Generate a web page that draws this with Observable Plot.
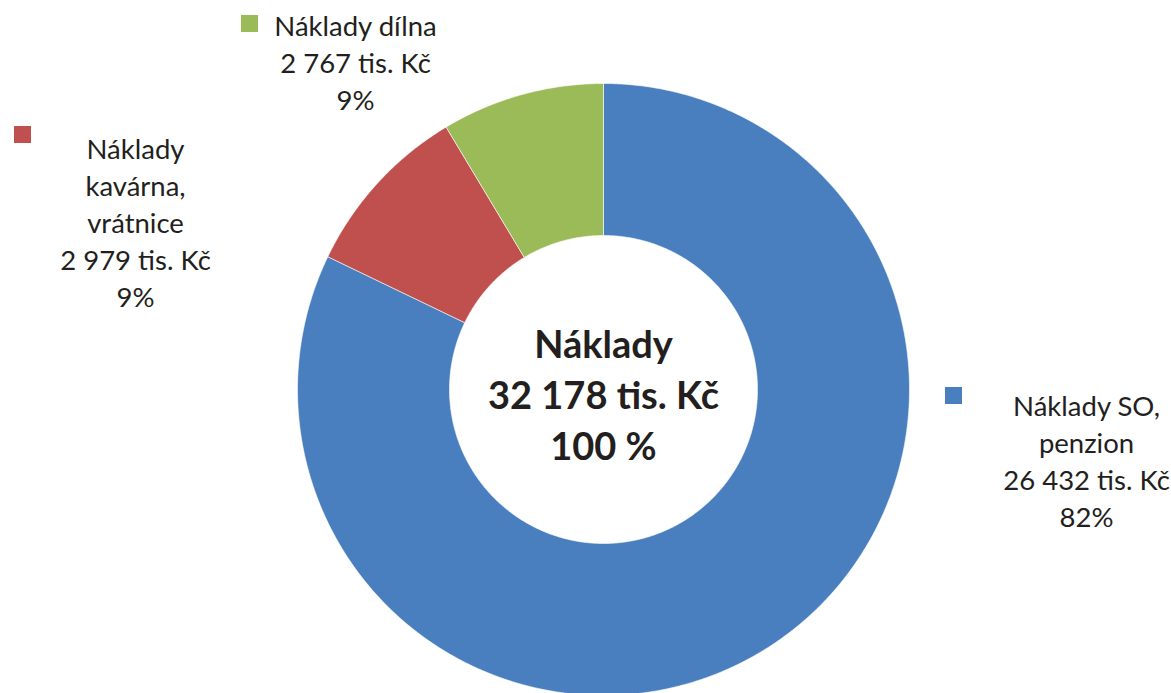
<!DOCTYPE html>
<html>
<head>
<meta charset="utf-8">
<script src="https://cdn.jsdelivr.net/npm/d3@7"></script>
<script src="https://cdn.jsdelivr.net/npm/@observablehq/plot@0.6"></script>
<style>
  html, body { margin: 0; padding: 0; background: #fff; }
  #chart { width: 1171px; height: 693px; overflow: hidden; }
</style>
</head>
<body>
<div id="chart"></div>
<script>
// ---- data ----
const categories = ["Náklady SO,\npenzion", "Náklady\nkavárna,\nvrátnice", "Náklady dílna"];
const values = [26432, 2979, 2767]; // tis. Kč
const colors = ["#4A7FBF", "#C0504D", "#9BBB59"];
const centerTitle = "Náklady";
const unit = "tis. Kč";

// ---- layout ----
const W = 1171, H = 693;
const cx = 603, cy = 389, R = 306, r = 154;
const labelLayout = [
  {x: 1086, y: 415, sq: [945, 387]},
  {x: 135, y: 158, sq: [14, 126]},
  {x: 355, y: 35, sq: [241, 15]}
];
const sqSize = 17;
const fs = 27.5, lh = 37;
const fsC = 38, lhC = 51;
const font = "Lato, 'Open Sans', sans-serif";

const total = d3.sum(values);
const fmt = v => d3.format(",")(v).replace(/,/g, " ");
const pct = v => Math.round(v / total * 100);

// slices via d3.pie (clockwise from top, in data order)
const pie = d3.pie().sort(null).value(d => d)(values);
const poly = [];
pie.forEach((p, i) => {
  const n = Math.max(2, Math.ceil((p.endAngle - p.startAngle) / (Math.PI / 360)));
  const pts = [];
  for (let k = 0; k <= n; k++) {
    const a = p.startAngle + (p.endAngle - p.startAngle) * k / n;
    pts.push([cx + R * Math.sin(a), cy - R * Math.cos(a)]);
  }
  for (let k = n; k >= 0; k--) {
    const a = p.startAngle + (p.endAngle - p.startAngle) * k / n;
    pts.push([cx + r * Math.sin(a), cy - r * Math.cos(a)]);
  }
  pts.push(pts[0]);
  pts.forEach(([x, y]) => poly.push({key: i, x, y, color: colors[i]}));
});

// labels
const lines = [];
categories.forEach((c, i) => {
  const L = labelLayout[i];
  const ls = [...c.split("\n"), `${fmt(values[i])} ${unit}`, `${pct(values[i])}%`];
  ls.forEach((t, j) => lines.push({x: L.x, y: L.y + j * lh - 0.32 * fs, text: t}));
});
const squares = categories.map((c, i) => ({
  x1: labelLayout[i].sq[0], x2: labelLayout[i].sq[0] + sqSize,
  y1: labelLayout[i].sq[1], y2: labelLayout[i].sq[1] + sqSize, color: colors[i]
}));
const centerLines = [centerTitle, `${fmt(total)} ${unit}`, "100 %"].map((t, j) => ({
  x: cx, y: 357 + j * lhC - 0.32 * fsC, text: t
}));

const chart = Plot.plot({
  width: W, height: H,
  margin: 0,
  x: {domain: [0, W], range: [0, W], axis: null},
  y: {domain: [0, H], range: [0, H], axis: null},
  style: {background: "#fff", fontFamily: font},
  marks: [
    Plot.line(poly, {x: "x", y: "y", z: "key", fill: "color", stroke: "#fff", strokeWidth: 0.6, curve: "linear"}),
    Plot.rect(squares, {x1: "x1", x2: "x2", y1: "y1", y2: "y2", fill: "color"}),
    Plot.text(lines, {x: "x", y: "y", text: "text", fontSize: fs, fill: "#231F20", textAnchor: "middle", lineAnchor: "middle", fontFamily: font}),
    Plot.text(centerLines, {x: "x", y: "y", text: "text", fontSize: fsC, fontWeight: "bold", fill: "#231F20", textAnchor: "middle", lineAnchor: "middle", fontFamily: font})
  ]
});
document.getElementById("chart").appendChild(chart);
</script>
</body>
</html>
